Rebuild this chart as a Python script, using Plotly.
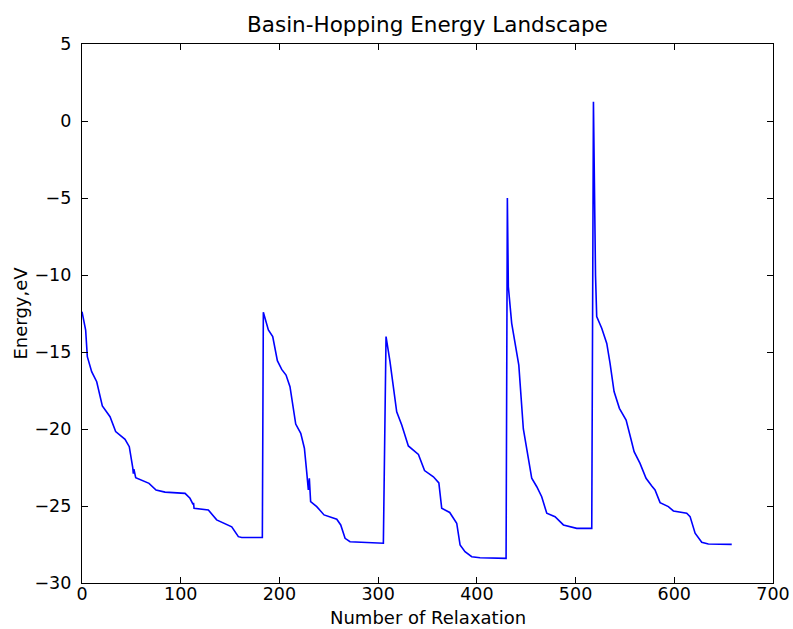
import plotly.graph_objects as go

# Relaxation step index (x) and energy in eV (y)
relax_x = [
    0, 3.7, 5.4, 9.8, 14.9, 20.6, 28.4, 34.1, 43.6, 47.9, 51.4, 52.0, 52.6, 54.4,
    67.9, 75, 84.1, 104.4, 109.4, 112.5, 113.0, 113.5, 128, 136.4, 151.7, 158.4,
    161.8, 182.7,
    183.7, 188.8, 193.2, 197.9, 202.3, 206.7, 210.7, 216.5, 221.6, 225.3, 227.6,
    229.3, 230.3, 231.6, 237.8, 245.2, 258.1, 262.1, 266.5, 271.5, 305.3,
    308, 312, 318.8, 323.9, 330.6, 340.8, 347, 356, 361.5, 364.4, 372.5, 379.6,
    383, 388, 394.8, 403.2, 429.6,
    430.9, 431.9, 435.3, 442.5, 447.1, 455.6, 460.7, 465.7, 470.8, 479.2, 487.7,
    501.2, 516.4,
    518.1, 520.2, 521.4, 526.5, 531.6, 534.9, 539, 544.4, 551.2, 555.9, 559.3,
    565.3, 571.4, 577.2, 580.5, 585.6, 594, 599.1, 612.6, 616, 621.1, 627.8,
    634.5, 658.2,
]
energy_ev = [
    -12.38, -13.57, -15.3, -16.28, -16.93, -18.5, -19.2, -20.17, -20.67, -21.15,
    -22.5, -22.9, -22.6, -23.16, -23.53, -23.96, -24.1, -24.18, -24.5, -24.9,
    -24.8, -25.15, -25.26, -25.9, -26.35, -26.99, -27.05, -27.05,
    -12.42, -13.57, -14.0, -15.56, -16.13, -16.5, -17.25, -19.68, -20.28, -21.25,
    -22.77, -23.96, -23.2, -24.72, -25.04, -25.58, -25.86, -26.23, -27.1, -27.32,
    -27.42,
    -14.0, -15.63, -18.88, -19.74, -21.1, -21.65, -22.7, -23.1, -23.5, -25.15,
    -25.42, -26.12, -27.53, -27.97, -28.29, -28.36, -28.4,
    -5.0, -10.76, -13.14, -15.85, -20.0, -23.2, -23.75, -24.4, -25.47, -25.7,
    -26.23, -26.45, -26.45,
    1.25, -10.0, -12.7, -13.46, -14.44, -15.73, -17.57, -18.66, -19.42, -20.6,
    -21.47, -22.23, -23.2, -23.7, -23.96, -24.78, -25.04, -25.32, -25.47, -25.69,
    -26.77, -27.36, -27.47, -27.49,
]

x_ticks = [0, 100, 200, 300, 400, 500, 600, 700]
y_ticks = [-30, -25, -20, -15, -10, -5, 0, 5]

title_text = "Basin-Hopping Energy Landscape"
x_label = "Number of Relaxation"
y_label = "Energy,eV"

FONT = "DejaVu Sans"

fig = go.Figure()
fig.add_trace(go.Scatter(
    x=relax_x, y=energy_ev, mode="lines",
    line=dict(color="#0000ff", width=1.6),
    showlegend=False, hoverinfo="skip",
))

axis_common = dict(
    showgrid=False, zeroline=False, showline=True, linecolor="black",
    linewidth=1.2, mirror="allticks", ticks="inside", ticklen=6,
    tickwidth=1, tickcolor="black", automargin=False,
    tickfont=dict(family=FONT, size=17.5, color="black"),
)

fig.update_layout(
    width=793, height=629,
    margin=dict(l=82, r=20, t=44, b=46, autoexpand=False),
    paper_bgcolor="white", plot_bgcolor="white",
    font=dict(family=FONT, color="black"),
    xaxis=dict(range=[0, 700], tickvals=x_ticks,
               ticktext=[str(v) for v in x_ticks],
               ticklabelstandoff=-5, **axis_common),
    yaxis=dict(range=[-30, 5], tickvals=y_ticks,
               ticktext=[str(v).replace("-", "\u2212") for v in y_ticks],
               ticklabelstandoff=6, **axis_common),
    annotations=[
        dict(text=title_text, xref="paper", yref="paper", x=0.5, y=1,
             yshift=20, xanchor="center", yanchor="middle", showarrow=False,
             font=dict(family=FONT, size=21.5, color="black")),
        dict(text=x_label, xref="paper", yref="paper", x=0.5, y=0,
             yshift=-34, xanchor="center", yanchor="middle", showarrow=False,
             font=dict(family=FONT, size=18, color="black")),
        dict(text=y_label, xref="paper", yref="paper", x=0, y=0.5,
             xshift=-62, xanchor="center", yanchor="middle", showarrow=False,
             textangle=-90,
             font=dict(family=FONT, size=18, color="black")),
    ],
)

fig.write_html("out.html")
